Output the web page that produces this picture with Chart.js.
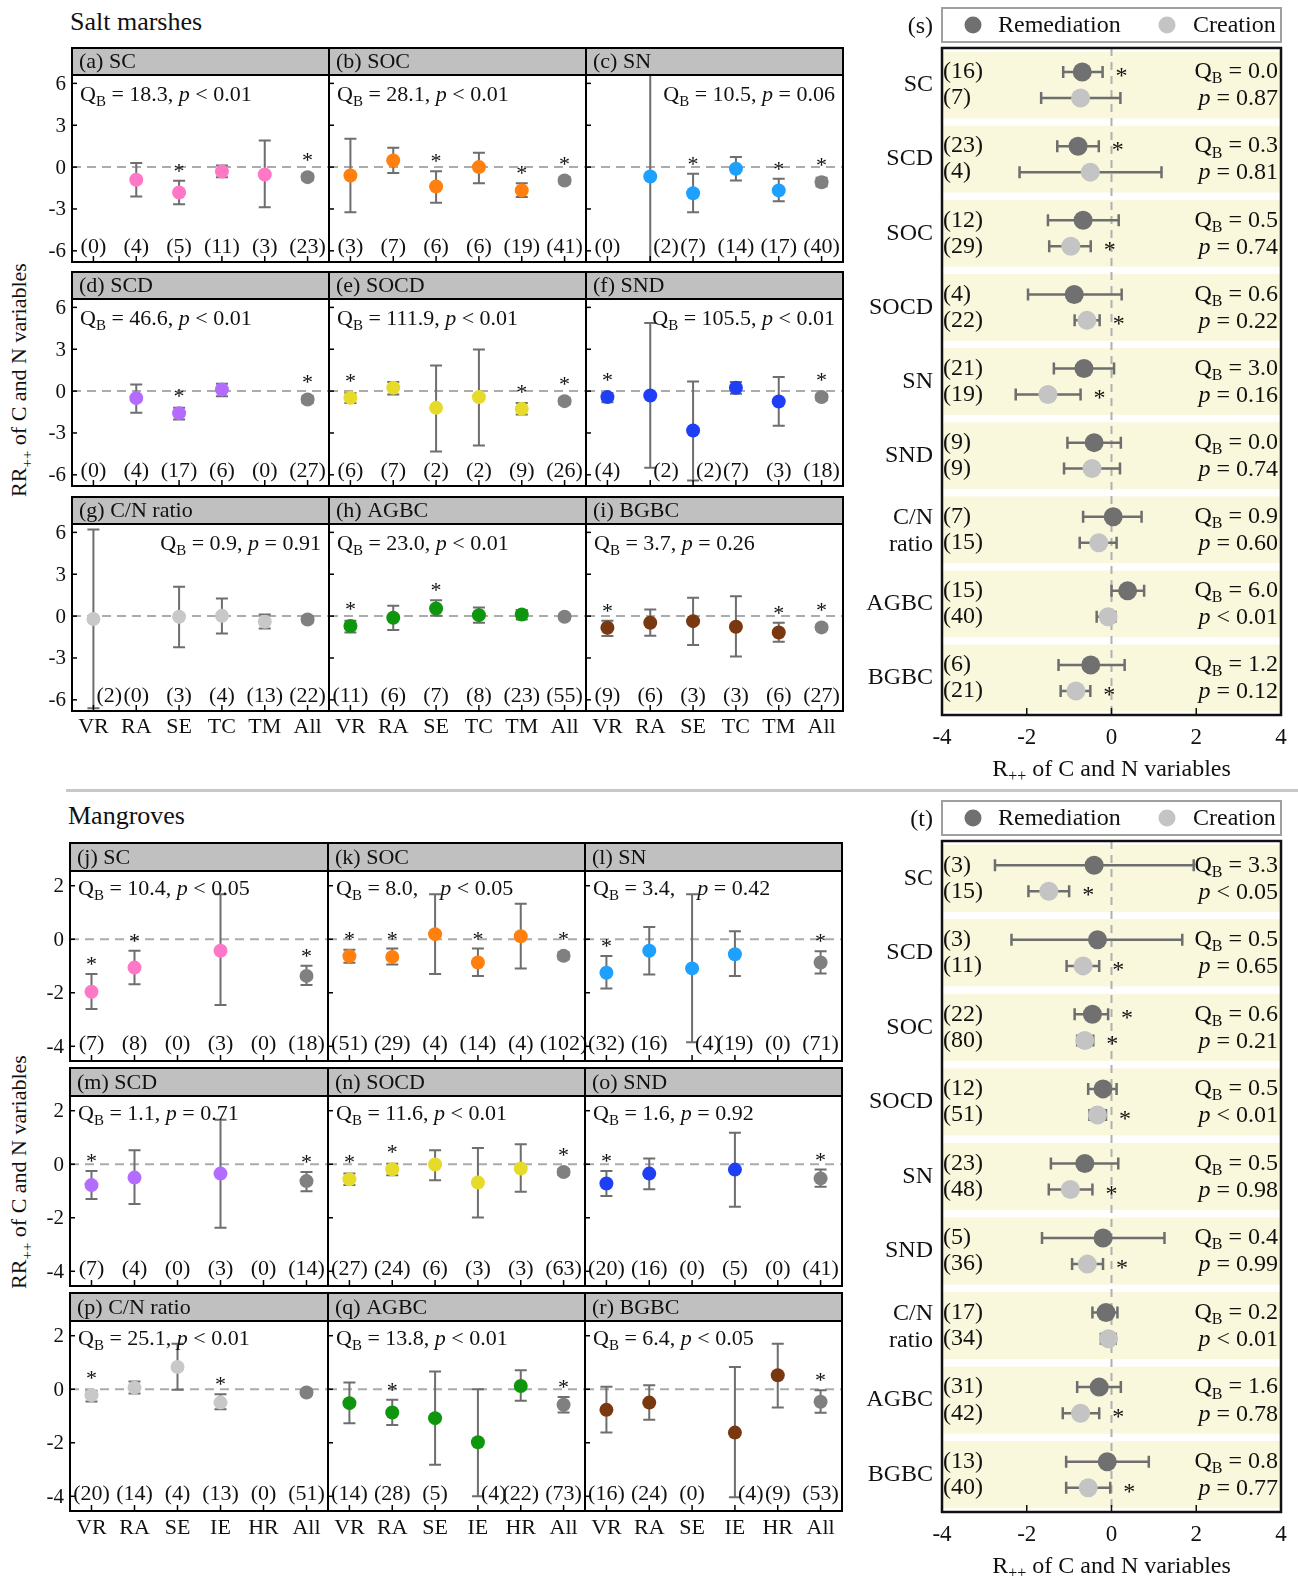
<!DOCTYPE html>
<html>
<head>
<meta charset="utf-8">
<script src="https://cdn.jsdelivr.net/npm/chart.js@4.4.1/dist/chart.umd.min.js"></script>
<style>
  html, body { margin: 0; padding: 0; background: #fff; }
  body { width: 1298px; height: 1576px; position: relative; overflow: hidden; font-family: "Liberation Serif", "Times New Roman", serif; color: #111; }
  canvas { position: absolute; }
  .title { position: absolute; font-size: 26px; line-height: 26px; white-space: nowrap; }
  .ytitle { position: absolute; font-size: 22px; white-space: nowrap; transform: translate(-50%, -50%) rotate(-90deg); }
  .ytitle sub { font-size: 0.68em; vertical-align: -0.35em; }
  .sep { position: absolute; background: #c8c8c8; }
</style>
</head>
<body>
<div class="title" style="left:70px; top:9px;">Salt marshes</div>
<div class="title" style="left:68px; top:803px;">Mangroves</div>
<div class="sep" style="left:66px; top:789px; width:1232px; height:3px;"></div>
<div class="ytitle" style="left:21px; top:380px;">RR<sub>++</sub> of C and N variables</div>
<div class="ytitle" style="left:21px; top:1172px;">RR<sub>++</sub> of C and N variables</div>
<script>
// ---------------- DATA ----------------
const saltCats = ['VR', 'RA', 'SE', 'TC', 'TM', 'All'];
const mangroveCats = ['VR', 'RA', 'SE', 'IE', 'HR', 'All'];
const panelVars = ['SC', 'SOC', 'SN', 'SCD', 'SOCD', 'SND', 'C/N ratio', 'AGBC', 'BGBC'];
const saltLetters = ['a', 'b', 'c', 'd', 'e', 'f', 'g', 'h', 'i'];
const mangroveLetters = ['j', 'k', 'l', 'm', 'n', 'o', 'p', 'q', 'r'];
const saltYTicks = [-6, -3, 0, 3, 6];
const mangroveYTicks = [-4, -2, 0, 2];

// Salt marsh panels (a)-(i): mean, lower CI, upper CI, n, significance
const saltMean = [
  [null, -0.91, -1.82, -0.31, -0.53, -0.72],
  [-0.60, 0.48, -1.39, 0.00, -1.67, -0.96],
  [null, -0.67, -1.87, -0.12, -1.67, -1.08],
  [null, -0.50, -1.58, 0.12, null, -0.60],
  [-0.48, 0.24, -1.20, -0.43, -1.27, -0.72],
  [-0.43, -0.31, -2.82, 0.24, -0.74, -0.43],
  [-0.21, null, -0.05, 0.02, -0.40, -0.24],
  [-0.71, -0.12, 0.55, 0.07, 0.12, -0.05],
  [-0.83, -0.48, -0.36, -0.76, -1.17, -0.81]
];
const saltLow = [
  [null, -2.10, -2.66, -0.72, -2.87, -0.95],
  [-3.23, -0.43, -2.56, -1.15, -2.15, -1.20],
  [null, -8.00, -3.23, -0.96, -2.44, -1.38],
  [null, -1.56, -2.03, -0.36, null, -0.85],
  [-0.86, -0.24, -4.33, -3.90, -1.67, -0.95],
  [-0.79, -5.50, -6.41, -0.19, -2.49, -0.65],
  [-6.60, null, -2.24, -1.24, -0.88, -0.45],
  [-1.17, -1.00, 0.02, -0.48, -0.24, -0.25],
  [-1.43, -1.40, -2.07, -2.90, -1.83, -1.00]
];
const saltHigh = [
  [null, 0.29, -0.98, 0.12, 1.91, -0.50],
  [2.03, 1.39, -0.29, 1.03, -1.15, -0.72],
  [null, 7.00, -0.48, 0.72, -0.84, -0.77],
  [null, 0.48, -1.20, 0.53, null, -0.35],
  [-0.14, 0.65, 1.84, 2.99, -0.86, -0.50],
  [-0.14, 4.88, 0.69, 0.65, 1.01, -0.20],
  [6.20, null, 2.10, 1.26, 0.12, -0.03],
  [-0.33, 0.74, 1.14, 0.62, 0.43, 0.15],
  [-0.33, 0.48, 1.31, 1.43, -0.48, -0.60]
];
const saltN = [
  [0, 4, 5, 11, 3, 23],
  [3, 7, 6, 6, 19, 41],
  [0, 2, 7, 14, 17, 40],
  [0, 4, 17, 6, 0, 27],
  [6, 7, 2, 2, 9, 26],
  [4, 2, 2, 7, 3, 18],
  [2, 0, 3, 4, 13, 22],
  [11, 6, 7, 8, 23, 55],
  [9, 6, 3, 3, 6, 27]
];
const saltSig = [
  [0, 0, 1, 0, 0, 1],
  [0, 0, 1, 0, 1, 1],
  [0, 0, 1, 0, 1, 1],
  [0, 0, 1, 0, 0, 1],
  [1, 0, 0, 0, 1, 1],
  [1, 0, 0, 0, 0, 1],
  [0, 0, 0, 0, 0, 0],
  [1, 0, 1, 0, 0, 0],
  [1, 0, 0, 0, 1, 1]
];
const saltQB = ['18.3', '28.1', '10.5', '46.6', '111.9', '105.5', '0.9', '23.0', '3.7'];
const saltP = ['< 0.01', '< 0.01', '= 0.06', '< 0.01', '< 0.01', '< 0.01', '= 0.91', '< 0.01', '= 0.26'];

// Mangrove panels (j)-(r)
const mangroveMean = [
  [-1.96, -1.06, null, -0.43, null, -1.37],
  [-0.63, -0.66, 0.19, -0.87, 0.11, -0.62],
  [-1.25, -0.43, -1.09, -0.56, null, -0.87],
  [-0.78, -0.50, null, -0.35, null, -0.63],
  [-0.56, -0.19, -0.01, -0.68, -0.16, -0.29],
  [-0.72, -0.35, null, -0.20, null, -0.53],
  [-0.22, 0.06, 0.83, -0.50, null, -0.12],
  [-0.52, -0.87, -1.08, -1.98, 0.12, -0.58],
  [-0.77, -0.50, null, -1.62, 0.52, -0.47]
];
const mangroveLow = [
  [-2.61, -1.68, null, -2.46, null, -1.71],
  [-0.88, -0.94, -1.30, -1.37, -1.09, -0.75],
  [-1.84, -1.32, -3.85, -1.37, null, -1.28],
  [-1.30, -1.49, null, -2.37, null, -1.01],
  [-0.78, -0.41, -0.60, -1.99, -1.03, -0.40],
  [-1.19, -0.93, null, -1.59, null, -0.84],
  [-0.46, -0.16, -0.02, -0.75, null, -0.22],
  [-1.27, -1.34, -2.82, -4.00, -0.43, -0.87],
  [-1.62, -1.14, null, -4.04, -0.68, -0.88]
];
const mangroveHigh = [
  [-1.30, -0.43, null, 1.68, null, -0.99],
  [-0.39, -0.35, 1.68, -0.35, 1.33, -0.49],
  [-0.63, 0.46, 1.68, 0.30, null, -0.45],
  [-0.25, 0.52, null, 1.66, null, -0.29],
  [-0.35, 0.02, 0.52, 0.61, 0.75, -0.18],
  [-0.25, 0.21, null, 1.18, null, -0.20],
  [-0.06, 0.29, 1.70, -0.19, null, -0.02],
  [0.25, -0.39, 0.66, 0.00, 0.71, -0.29],
  [0.09, 0.15, null, 0.83, 1.70, -0.04]
];
const mangroveN = [
  [7, 8, 0, 3, 0, 18],
  [51, 29, 4, 14, 4, 102],
  [32, 16, 4, 19, 0, 71],
  [7, 4, 0, 3, 0, 14],
  [27, 24, 6, 3, 3, 63],
  [20, 16, 0, 5, 0, 41],
  [20, 14, 4, 13, 0, 51],
  [14, 28, 5, 4, 22, 73],
  [16, 24, 0, 4, 9, 53]
];
const mangroveSig = [
  [1, 1, 0, 0, 0, 1],
  [1, 1, 0, 1, 0, 1],
  [1, 0, 0, 0, 0, 1],
  [1, 0, 0, 0, 0, 1],
  [1, 1, 0, 0, 0, 1],
  [1, 0, 0, 0, 0, 1],
  [1, 0, 0, 1, 0, 0],
  [0, 1, 0, 0, 0, 1],
  [0, 0, 0, 0, 0, 1]
];
const mangroveQB = ['10.4', '8.0', '3.4', '1.1', '11.6', '1.6', '25.1', '13.8', '6.4'];
const mangroveP = ['< 0.05', '< 0.05', '= 0.42', '= 0.71', '< 0.01', '= 0.92', '< 0.01', '< 0.01', '< 0.05'];

// Forest panels (s) salt marshes and (t) mangroves
const forestVars = ['SC', 'SCD', 'SOC', 'SOCD', 'SN', 'SND', 'C/N ratio', 'AGBC', 'BGBC'];
const saltRemMean = [-0.69, -0.79, -0.67, -0.88, -0.65, -0.41, 0.04, 0.38, -0.49];
const saltRemLow = [-1.14, -1.28, -1.50, -1.97, -1.36, -1.04, -0.67, 0.00, -1.25];
const saltRemHigh = [-0.21, -0.30, 0.17, 0.24, 0.06, 0.22, 0.71, 0.77, 0.31];
const saltRemN = [16, 23, 12, 4, 21, 9, 7, 15, 6];
const saltRemSig = [1, 1, 0, 0, 0, 0, 0, 0, 0];
const saltCreMean = [-0.73, -0.50, -0.96, -0.58, -1.50, -0.46, -0.30, -0.08, -0.84];
const saltCreLow = [-1.66, -2.17, -1.47, -0.87, -2.26, -1.12, -0.75, -0.35, -1.20];
const saltCreHigh = [0.21, 1.18, -0.49, -0.28, -0.73, 0.20, 0.12, 0.09, -0.50];
const saltCreN = [7, 4, 29, 22, 19, 9, 15, 40, 21];
const saltCreSig = [0, 0, 1, 1, 1, 0, 0, 0, 1];
const saltForestQB = ['0.0', '0.3', '0.5', '0.6', '3.0', '0.0', '0.9', '6.0', '1.2'];
const saltForestP = ['= 0.87', '= 0.81', '= 0.74', '= 0.22', '= 0.16', '= 0.74', '= 0.60', '< 0.01', '= 0.12'];

const mangRemMean = [-0.41, -0.33, -0.45, -0.20, -0.63, -0.20, -0.13, -0.29, -0.10];
const mangRemLow = [-2.75, -2.36, -0.87, -0.55, -1.43, -1.64, -0.45, -0.81, -1.07];
const mangRemHigh = [1.94, 1.67, -0.08, 0.12, 0.16, 1.25, 0.14, 0.22, 0.88];
const mangRemN = [3, 3, 22, 12, 23, 5, 17, 31, 13];
const mangRemSig = [0, 0, 1, 0, 0, 0, 0, 0, 0];
const mangCreMean = [-1.48, -0.67, -0.63, -0.33, -0.97, -0.57, -0.07, -0.73, -0.55];
const mangCreLow = [-1.96, -1.06, -0.81, -0.52, -1.48, -0.93, -0.25, -1.15, -1.07];
const mangCreHigh = [-1.00, -0.29, -0.43, -0.13, -0.45, -0.20, 0.10, -0.29, -0.03];
const mangCreN = [15, 11, 80, 51, 48, 36, 34, 42, 40];
const mangCreSig = [1, 1, 1, 1, 1, 1, 0, 1, 1];
const mangForestQB = ['3.3', '0.5', '0.6', '0.5', '0.5', '0.4', '0.2', '1.6', '0.8'];
const mangForestP = ['< 0.05', '= 0.65', '= 0.21', '< 0.01', '= 0.98', '= 0.99', '< 0.01', '= 0.78', '= 0.77'];
const forestXTicks = [-4, -2, 0, 2, 4];

// ---------------- STYLE ----------------
const varColors = ['#ff78c8', '#ff800e', '#1ea0ff', '#b36cff', '#e6da2a', '#1f3ff7', '#c8c8c8', '#0f960f', '#7a3810'];
const ALL_GRAY = '#808080';
const BAR_GRAY = '#6e6e6e';
const FONT = '"Liberation Serif", "Times New Roman", serif';
function font(size, italic) { return (italic ? 'italic ' : '') + size + 'px ' + FONT; }

Chart.defaults.animation = false;
Chart.defaults.font.family = FONT;

function drawRich(ctx, x, y, parts, size, align) {
  const fontOf = p => p[1] === 'sub' ? font(Math.round(size * 0.66)) : font(size, p[1] === 'it');
  const widths = parts.map(p => { ctx.font = fontOf(p); return ctx.measureText(p[0]).width; });
  const total = widths.reduce((s, v) => s + v, 0);
  let cx = align === 'right' ? x - total : (align === 'center' ? x - total / 2 : x);
  ctx.textAlign = 'left';
  ctx.textBaseline = 'middle';
  parts.forEach((p, i) => {
    ctx.font = fontOf(p);
    ctx.fillText(p[0], cx, p[1] === 'sub' ? y + size * 0.3 : y);
    cx += widths[i];
  });
}

const salt = {
  cols: [72, 329, 586, 843], headerTops: [48, 272, 497], headerH: 27, plotH: 187,
  yMin: -6.8, yMax: 6.6, yTicks: saltYTicks, cats: saltCats, letters: saltLetters,
  mean: saltMean, low: saltLow, high: saltHigh, n: saltN, sig: saltSig, qb: saltQB, p: saltP,
  rightQB: [2, 5, 6], gapQB: [], nOff: 15, catOff: 16, qbOff: 20
};
const mangrove = {
  cols: [70, 328, 585, 842], headerTops: [843, 1068, 1293], headerH: 28, plotH: 190,
  yMin: -4.55, yMax: 2.55, yTicks: mangroveYTicks, cats: mangroveCats, letters: mangroveLetters,
  mean: mangroveMean, low: mangroveLow, high: mangroveHigh, n: mangroveN, sig: mangroveSig, qb: mangroveQB, p: mangroveP,
  rightQB: [], gapQB: [1, 2], nOff: 17, catOff: 17, qbOff: 18
};

function smallPanel(sec, k) {
  const col = k % 3, row = Math.floor(k / 3);
  const L = sec.cols[col], R = sec.cols[col + 1];
  const hTop = sec.headerTops[row];
  const pTop = hTop + sec.headerH;
  const cTop = hTop - 4;
  const padL = 62, padR = 8, padT = pTop - cTop, padB = 40;
  const cv = document.createElement('canvas');
  cv.width = R - L + padL + padR;
  cv.height = padT + sec.plotH + padB;
  cv.style.left = (L - padL) + 'px';
  cv.style.top = cTop + 'px';
  document.body.appendChild(cv);

  const means = sec.mean[k], lows = sec.low[k], highs = sec.high[k], ns = sec.n[k], sigs = sec.sig[k];
  const isCN = k === 6;
  const colors = means.map((v, i) => i === means.length - 1 ? ALL_GRAY : (isCN ? varColors[6] : varColors[k]));

  const plugin = {
    id: 'panelDeco',
    beforeDatasetsDraw(chart) {
      const ctx = chart.ctx, a = chart.chartArea, xs = chart.scales.x, ys = chart.scales.y;
      const w = a.right - a.left, h = a.bottom - a.top;
      ctx.save();
      // header
      ctx.fillStyle = '#c0c0c0';
      ctx.fillRect(a.left, a.top - sec.headerH, w, sec.headerH);
      ctx.strokeStyle = '#000';
      ctx.lineWidth = 2;
      ctx.strokeRect(a.left, a.top - sec.headerH, w, sec.headerH);
      ctx.fillStyle = '#111';
      ctx.font = font(22);
      ctx.textAlign = 'left';
      ctx.textBaseline = 'middle';
      ctx.fillText('(' + sec.letters[k] + ') ' + panelVars[k], a.left + 7, a.top - sec.headerH / 2 + 1);
      // clip region
      ctx.beginPath();
      ctx.rect(a.left, a.top, w, h);
      ctx.clip();
      // zero dashed line
      const y0 = ys.getPixelForValue(0);
      ctx.setLineDash([9, 6]);
      ctx.strokeStyle = '#ababab';
      ctx.lineWidth = 2;
      ctx.beginPath();
      ctx.moveTo(a.left, y0);
      ctx.lineTo(a.right, y0);
      ctx.stroke();
      ctx.setLineDash([]);
      // error bars
      ctx.strokeStyle = BAR_GRAY;
      ctx.lineWidth = 2;
      means.forEach((m, i) => {
        if (m === null) return;
        const px = xs.getPixelForValue(i);
        const lo = ys.getPixelForValue(lows[i]), hi = ys.getPixelForValue(highs[i]);
        ctx.beginPath();
        ctx.moveTo(px, lo); ctx.lineTo(px, hi);
        ctx.moveTo(px - 6, lo); ctx.lineTo(px + 6, lo);
        ctx.moveTo(px - 6, hi); ctx.lineTo(px + 6, hi);
        ctx.stroke();
      });
      ctx.restore();
    },
    afterDatasetsDraw(chart) {
      const ctx = chart.ctx, a = chart.chartArea, xs = chart.scales.x, ys = chart.scales.y;
      const w = a.right - a.left, h = a.bottom - a.top;
      ctx.save();
      ctx.strokeStyle = '#000';
      ctx.lineWidth = 2;
      ctx.strokeRect(a.left, a.top, w, h);
      ctx.lineWidth = 1.5;
      ctx.fillStyle = '#111';
      // y ticks
      sec.yTicks.forEach(t => {
        const py = ys.getPixelForValue(t);
        ctx.beginPath();
        ctx.moveTo(a.left, py); ctx.lineTo(a.left + 5, py);
        ctx.stroke();
        if (col === 0) {
          ctx.font = font(21);
          ctx.textAlign = 'right';
          ctx.textBaseline = 'middle';
          ctx.fillText(String(t), a.left - 6, py + 1);
        }
      });
      // x ticks + labels
      sec.cats.forEach((c, i) => {
        const px = xs.getPixelForValue(i);
        ctx.beginPath();
        ctx.moveTo(px, a.bottom); ctx.lineTo(px, a.bottom - 6);
        ctx.stroke();
        if (row === 2) {
          ctx.font = font(22);
          ctx.textAlign = 'center';
          ctx.textBaseline = 'middle';
          ctx.fillText(c, px, a.bottom + sec.catOff);
        }
      });
      // QB text
      const sep = sec.gapQB.indexOf(k) >= 0 ? ',    ' : ', ';
      const parts = [['Q', ''], ['B', 'sub'], [' = ' + sec.qb[k] + sep, ''], ['p', 'it'], [' ' + sec.p[k], '']];
      const right = sec.rightQB.indexOf(k) >= 0;
      drawRich(ctx, right ? a.right - 8 : a.left + 8, a.top + sec.qbOff, parts, 22, right ? 'right' : 'left');
      // n labels
      ctx.font = font(22);
      ctx.textBaseline = 'middle';
      ctx.textAlign = 'center';
      const ny = a.bottom - sec.nOff;
      ns.forEach((n, i) => {
        let px = xs.getPixelForValue(i);
        const txt = '(' + n + ')';
        const tw = ctx.measureText(txt).width;
        if (means[i] !== null) {
          const loPx = Math.min(ys.getPixelForValue(lows[i]), a.bottom);
          if (loPx > ny - 10) px += tw / 2 + 3;
        }
        ctx.fillText(txt, px, ny);
      });
      // significance asterisks
      ctx.font = font(22);
      ctx.textAlign = 'center';
      ctx.textBaseline = 'alphabetic';
      sigs.forEach((s, i) => {
        if (!s || means[i] === null) return;
        const px = xs.getPixelForValue(i);
        const top = Math.min(ys.getPixelForValue(highs[i]), ys.getPixelForValue(means[i]) - 7);
        ctx.fillText('*', px, top - 3);
      });
      ctx.restore();
    }
  };

  new Chart(cv, {
    type: 'line',
    data: {
      labels: sec.cats,
      datasets: [{
        data: means,
        showLine: false,
        pointRadius: 7,
        pointHoverRadius: 7,
        pointBorderWidth: 0,
        pointBackgroundColor: colors,
        pointBorderColor: colors
      }]
    },
    options: {
      responsive: false,
      maintainAspectRatio: false,
      devicePixelRatio: 1,
      animation: false,
      events: [],
      layout: { padding: { left: padL, right: padR, top: padT, bottom: padB } },
      plugins: { legend: { display: false }, tooltip: { enabled: false }, title: { display: false } },
      scales: {
        x: { type: 'category', offset: true, display: false },
        y: { type: 'linear', min: sec.yMin, max: sec.yMax, display: false }
      }
    },
    plugins: [plugin]
  });
}

for (let k = 0; k < 9; k++) { smallPanel(salt, k); smallPanel(mangrove, k); }

// ---------------- Forest panels ----------------
const forestS = {
  tag: '(s)', canvasTop: 0, plotTop: 48, plotBottom: 715, canvasH: 790,
  remMean: saltRemMean, remLow: saltRemLow, remHigh: saltRemHigh, remN: saltRemN, remSig: saltRemSig,
  creMean: saltCreMean, creLow: saltCreLow, creHigh: saltCreHigh, creN: saltCreN, creSig: saltCreSig,
  qb: saltForestQB, p: saltForestP
};
const forestT = {
  tag: '(t)', canvasTop: 795, plotTop: 841, plotBottom: 1512, canvasH: 781,
  remMean: mangRemMean, remLow: mangRemLow, remHigh: mangRemHigh, remN: mangRemN, remSig: mangRemSig,
  creMean: mangCreMean, creLow: mangCreLow, creHigh: mangCreHigh, creN: mangCreN, creSig: mangCreSig,
  qb: mangForestQB, p: mangForestP
};
const REM_COLOR = '#707070', CRE_COLOR = '#c4c4c4';
const ROW_OFF = 0.175;

function forestPanel(f) {
  const cLeft = 848, W = 450;
  const plotL = 942, plotR = 1281;
  const padL = plotL - cLeft, padR = cLeft + W - plotR;
  const padT = f.plotTop - f.canvasTop;
  const padB = f.canvasH - (f.plotBottom - f.canvasTop);
  const cv = document.createElement('canvas');
  cv.width = W; cv.height = f.canvasH;
  cv.style.left = cLeft + 'px';
  cv.style.top = f.canvasTop + 'px';
  document.body.appendChild(cv);

  const rows = [
    { mean: f.remMean, low: f.remLow, high: f.remHigh, n: f.remN, sig: f.remSig, off: -ROW_OFF },
    { mean: f.creMean, low: f.creLow, high: f.creHigh, n: f.creN, sig: f.creSig, off: ROW_OFF }
  ];

  const plugin = {
    id: 'forestDeco',
    beforeDatasetsDraw(chart) {
      const ctx = chart.ctx, a = chart.chartArea, xs = chart.scales.x, ys = chart.scales.y;
      const w = a.right - a.left;
      ctx.save();
      // bands
      ctx.fillStyle = '#f9f7dc';
      forestVars.forEach((v, i) => {
        const y1 = ys.getPixelForValue(i - 0.45), y2 = ys.getPixelForValue(i + 0.45);
        ctx.fillRect(a.left, y1, w, y2 - y1);
      });
      // zero dashed line
      const x0 = xs.getPixelForValue(0);
      ctx.setLineDash([8, 6]);
      ctx.strokeStyle = '#b0b0b0';
      ctx.lineWidth = 2;
      ctx.beginPath();
      ctx.moveTo(x0, a.top); ctx.lineTo(x0, a.bottom);
      ctx.stroke();
      ctx.setLineDash([]);
      // error bars
      ctx.strokeStyle = BAR_GRAY;
      ctx.lineWidth = 2.5;
      rows.forEach(r => {
        r.mean.forEach((m, i) => {
          const py = ys.getPixelForValue(i + r.off);
          const lo = xs.getPixelForValue(r.low[i]), hi = xs.getPixelForValue(r.high[i]);
          ctx.beginPath();
          ctx.moveTo(lo, py); ctx.lineTo(hi, py);
          ctx.moveTo(lo, py - 6); ctx.lineTo(lo, py + 6);
          ctx.moveTo(hi, py - 6); ctx.lineTo(hi, py + 6);
          ctx.stroke();
        });
      });
      ctx.restore();
    },
    afterDatasetsDraw(chart) {
      const ctx = chart.ctx, a = chart.chartArea, xs = chart.scales.x, ys = chart.scales.y;
      const w = a.right - a.left, h = a.bottom - a.top;
      ctx.save();
      ctx.strokeStyle = '#111';
      ctx.lineWidth = 2.5;
      ctx.strokeRect(a.left, a.top, w, h);
      ctx.fillStyle = '#111';
      // x ticks + labels
      ctx.lineWidth = 1.5;
      forestXTicks.forEach(t => {
        const px = xs.getPixelForValue(t);
        ctx.beginPath();
        ctx.moveTo(px, a.bottom); ctx.lineTo(px, a.bottom - 7);
        ctx.stroke();
        ctx.font = font(23);
        ctx.textAlign = 'center';
        ctx.textBaseline = 'middle';
        ctx.fillText(String(t), px, a.bottom + 23);
      });
      // x title
      drawRich(ctx, xs.getPixelForValue(0), a.bottom + 55, [['R', ''], ['++', 'sub'], [' of C and N variables', '']], 24, 'center');
      // row labels, n, QB, asterisks
      forestVars.forEach((v, i) => {
        const yRem = ys.getPixelForValue(i - ROW_OFF), yCre = ys.getPixelForValue(i + ROW_OFF);
        const yMid = ys.getPixelForValue(i);
        ctx.font = font(24);
        ctx.textAlign = 'right';
        ctx.textBaseline = 'middle';
        if (v === 'C/N ratio') {
          ctx.fillText('C/N', a.left - 9, yRem + 1);
          ctx.fillText('ratio', a.left - 9, yCre + 2);
        } else {
          ctx.fillText(v, a.left - 9, yMid);
        }
        ctx.textAlign = 'left';
        ctx.fillText('(' + f.remN[i] + ')', a.left + 1, yRem);
        ctx.fillText('(' + f.creN[i] + ')', a.left + 1, yCre);
        drawRich(ctx, a.right - 3, yRem, [['Q', ''], ['B', 'sub'], [' = ' + f.qb[i], '']], 24, 'right');
        drawRich(ctx, a.right - 3, yCre + 1, [['p', 'it'], [' ' + f.p[i], '']], 24, 'right');
        rows.forEach(r => {
          if (!r.sig[i]) return;
          const py = ys.getPixelForValue(i + r.off);
          ctx.font = font(24);
          ctx.textAlign = 'center';
          ctx.textBaseline = 'alphabetic';
          ctx.fillText('*', xs.getPixelForValue(r.high[i]) + 19, py + 11);
        });
      });
      // legend
      const lTop = a.top - 40, lBot = a.top - 6;
      const lMid = (lTop + lBot) / 2;
      ctx.strokeStyle = '#a0a0a0';
      ctx.lineWidth = 2;
      ctx.strokeRect(a.left, lTop, w, lBot - lTop);
      ctx.fillStyle = REM_COLOR;
      ctx.beginPath(); ctx.arc(a.left + 31, lMid, 8.5, 0, Math.PI * 2); ctx.fill();
      ctx.fillStyle = CRE_COLOR;
      ctx.beginPath(); ctx.arc(a.left + 225, lMid, 8.5, 0, Math.PI * 2); ctx.fill();
      ctx.fillStyle = '#111';
      ctx.font = font(24);
      ctx.textAlign = 'left';
      ctx.textBaseline = 'middle';
      ctx.fillText('Remediation', a.left + 56, lMid + 1);
      ctx.fillText('Creation', a.left + 251, lMid + 1);
      ctx.textAlign = 'right';
      ctx.fillText(f.tag, a.left - 9, lMid + 2);
      ctx.restore();
    }
  };

  new Chart(cv, {
    type: 'scatter',
    data: {
      datasets: rows.map((r, j) => ({
        label: j === 0 ? 'Remediation' : 'Creation',
        data: r.mean.map((m, i) => ({ x: m, y: i + r.off })),
        pointRadius: 9.5,
        pointHoverRadius: 9.5,
        pointBorderWidth: 0,
        pointBackgroundColor: j === 0 ? REM_COLOR : CRE_COLOR,
        pointBorderColor: j === 0 ? REM_COLOR : CRE_COLOR
      }))
    },
    options: {
      responsive: false,
      maintainAspectRatio: false,
      devicePixelRatio: 1,
      animation: false,
      events: [],
      layout: { padding: { left: padL, right: padR, top: padT, bottom: padB } },
      plugins: { legend: { display: false }, tooltip: { enabled: false } },
      scales: {
        x: { type: 'linear', min: -4, max: 4, display: false },
        y: { type: 'linear', min: -0.5, max: 8.5, reverse: true, display: false }
      }
    },
    plugins: [plugin]
  });
}

forestPanel(forestS);
forestPanel(forestT);
</script>
</body>
</html>
